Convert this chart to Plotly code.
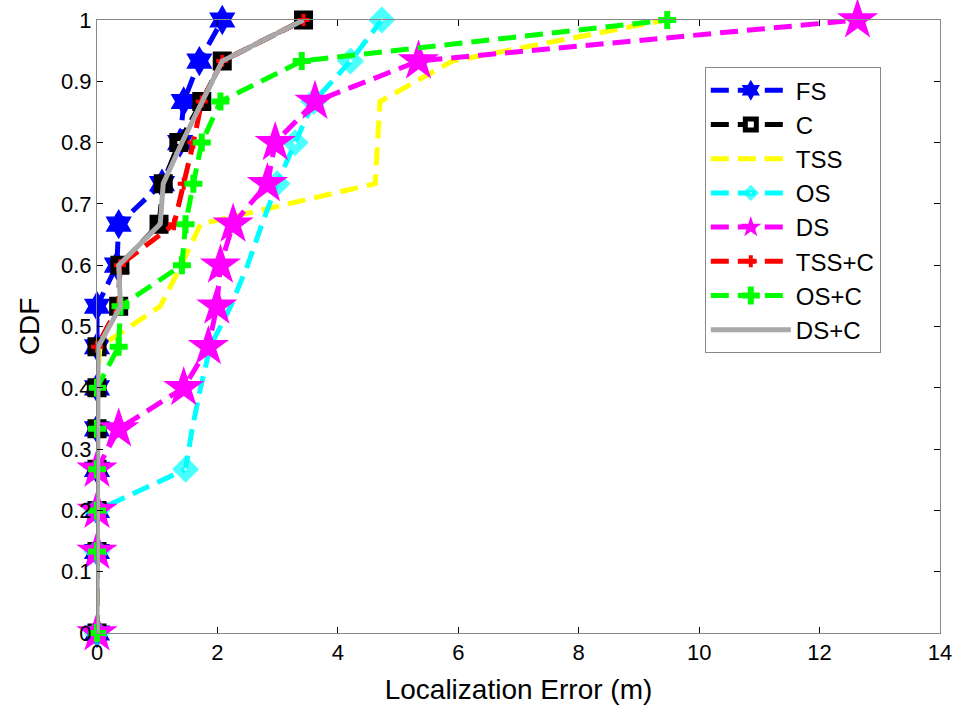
import plotly.graph_objects as go

# CDF levels (shared by all series)
cdf = [0, 0.133, 0.2, 0.267, 0.333, 0.4, 0.467, 0.533, 0.6, 0.667, 0.733, 0.8, 0.867, 0.933, 1.0]

# Localization error (m) for each method at each CDF level
fs_err = [0, 0, 0, 0, 0, 0, 0, 0, 0.33, 0.36, 1.08, 1.38, 1.44, 1.70, 2.08]
c_err = [0, 0, 0, 0, 0, 0, 0, 0.36, 0.38, 1.03, 1.10, 1.36, 1.74, 2.08, 3.43]
tss_err = [0, 0, 0, 0, 0, 0, 0.05, 1.05, 1.40, 1.72, 4.62, 4.65, 4.70, 5.90, 9.45]
os_err = [0, 0, 0, 1.47, 1.58, 1.72, 1.88, 2.22, 2.50, 2.74, 2.99, 3.29, 3.60, 4.21, 4.73]
ds_err = [0, 0, 0, 0, 0.36, 1.44, 1.85, 1.99, 2.05, 2.26, 2.83, 2.96, 3.62, 5.34, 12.63]
tssc_err = [0, 0, 0, 0, 0, 0, 0, 0.36, 0.38, 1.28, 1.44, 1.60, 1.74, 2.08, 3.43]
osc_err = [0, 0, 0, 0, 0, 0, 0.36, 0.39, 1.41, 1.47, 1.60, 1.74, 2.05, 3.40, 9.47]
dsc_err = [0, 0, 0, 0, 0, 0, 0.02, 0.39, 0.36, 1.05, 1.10, 1.41, 1.74, 2.08, 3.43]

series_names = ["FS", "C", "TSS", "OS", "DS", "TSS+C", "OS+C", "DS+C"]

x_ticks = [0, 2, 4, 6, 8, 10, 12, 14]
y_ticks = [0, 0.1, 0.2, 0.3, 0.4, 0.5, 0.6, 0.7, 0.8, 0.9, 1]

DASH = "18px,9px"
FONT = "Liberation Sans, Arial, sans-serif"

fig = go.Figure()

fig.add_trace(go.Scatter(
    x=fs_err, y=cdf, name=series_names[0], mode="lines+markers", cliponaxis=False,
    line=dict(color="#0000FF", width=5, dash=DASH),
    marker=dict(symbol="hexagram", size=23, color="#0000FF", line=dict(width=0)),
))
fig.add_trace(go.Scatter(
    x=c_err, y=cdf, name=series_names[1], mode="lines+markers", cliponaxis=False,
    line=dict(color="#000000", width=5, dash=DASH),
    marker=dict(symbol="square", size=11, color="white", line=dict(color="#000000", width=8)),
))
fig.add_trace(go.Scatter(
    x=tss_err, y=cdf, name=series_names[2], mode="lines", cliponaxis=False,
    line=dict(color="#FFFF00", width=5, dash=DASH),
))
os_sizes = [12, 12, 12, 12, 0, 0, 0, 0, 0, 0, 12, 12, 12, 12, 12]
fig.add_trace(go.Scatter(
    x=os_err, y=cdf, name=series_names[3], mode="lines+markers", cliponaxis=False,
    line=dict(color="#00FFFF", width=5, dash=DASH),
    marker=dict(symbol="diamond", size=os_sizes, color="white", line=dict(color="#00FFFF", width=8)),
))
fig.add_trace(go.Scatter(
    x=ds_err, y=cdf, name=series_names[4], mode="lines+markers", cliponaxis=False,
    line=dict(color="#FF00FF", width=5, dash=DASH),
    marker=dict(symbol="star", size=31, color="#FF00FF", line=dict(width=0)),
))
fig.add_trace(go.Scatter(
    x=tssc_err, y=cdf, name=series_names[5], mode="lines+markers", cliponaxis=False,
    line=dict(color="#FF0000", width=5, dash=DASH),
    marker=dict(symbol="cross", size=10, color="#FF0000", line=dict(width=0)),
))
fig.add_trace(go.Scatter(
    x=osc_err, y=cdf, name=series_names[6], mode="lines+markers", cliponaxis=False,
    line=dict(color="#00FF00", width=5, dash=DASH),
    marker=dict(symbol="cross", size=15, color="#00FF00", line=dict(width=0)),
))
fig.add_trace(go.Scatter(
    x=dsc_err, y=cdf, name=series_names[7], mode="lines", cliponaxis=False,
    line=dict(color="#A9A9A9", width=5),
))

axis_common = dict(
    showline=True, linecolor="#888888", linewidth=1, mirror="ticks",
    ticks="inside", ticklen=6, tickwidth=1, tickcolor="#000000",
    showgrid=False, zeroline=False, automargin=False,
    tickfont=dict(family=FONT, size=22, color="black"),
)

fig.update_layout(
    width=953, height=705,
    margin=dict(l=97, r=13, t=20, b=72),
    paper_bgcolor="white", plot_bgcolor="white",
    font=dict(family=FONT, color="black"),
    xaxis=dict(range=[0, 14], tickvals=x_ticks, ticktext=[str(v) for v in x_ticks],
               title=dict(text="Localization Error (m)", font=dict(family=FONT, size=28), standoff=14),
               **axis_common),
    yaxis=dict(range=[0, 1], tickvals=y_ticks, ticktext=[("%g" % v) for v in y_ticks],
               title=dict(text="CDF", font=dict(family=FONT, size=28), standoff=13),
               **axis_common),
    legend=dict(
        x=0.721, y=0.923, xanchor="left", yanchor="top",
        bgcolor="white", bordercolor="#888888", borderwidth=1,
        font=dict(family=FONT, size=24, color="black"),
        itemwidth=80, tracegroupgap=0,
    ),
    showlegend=True,
)

fig.write_html(
    "out.html",
    config={"displayModeBar": False},
    post_script="document.body.style.margin='0';document.body.style.overflow='hidden';",
)
